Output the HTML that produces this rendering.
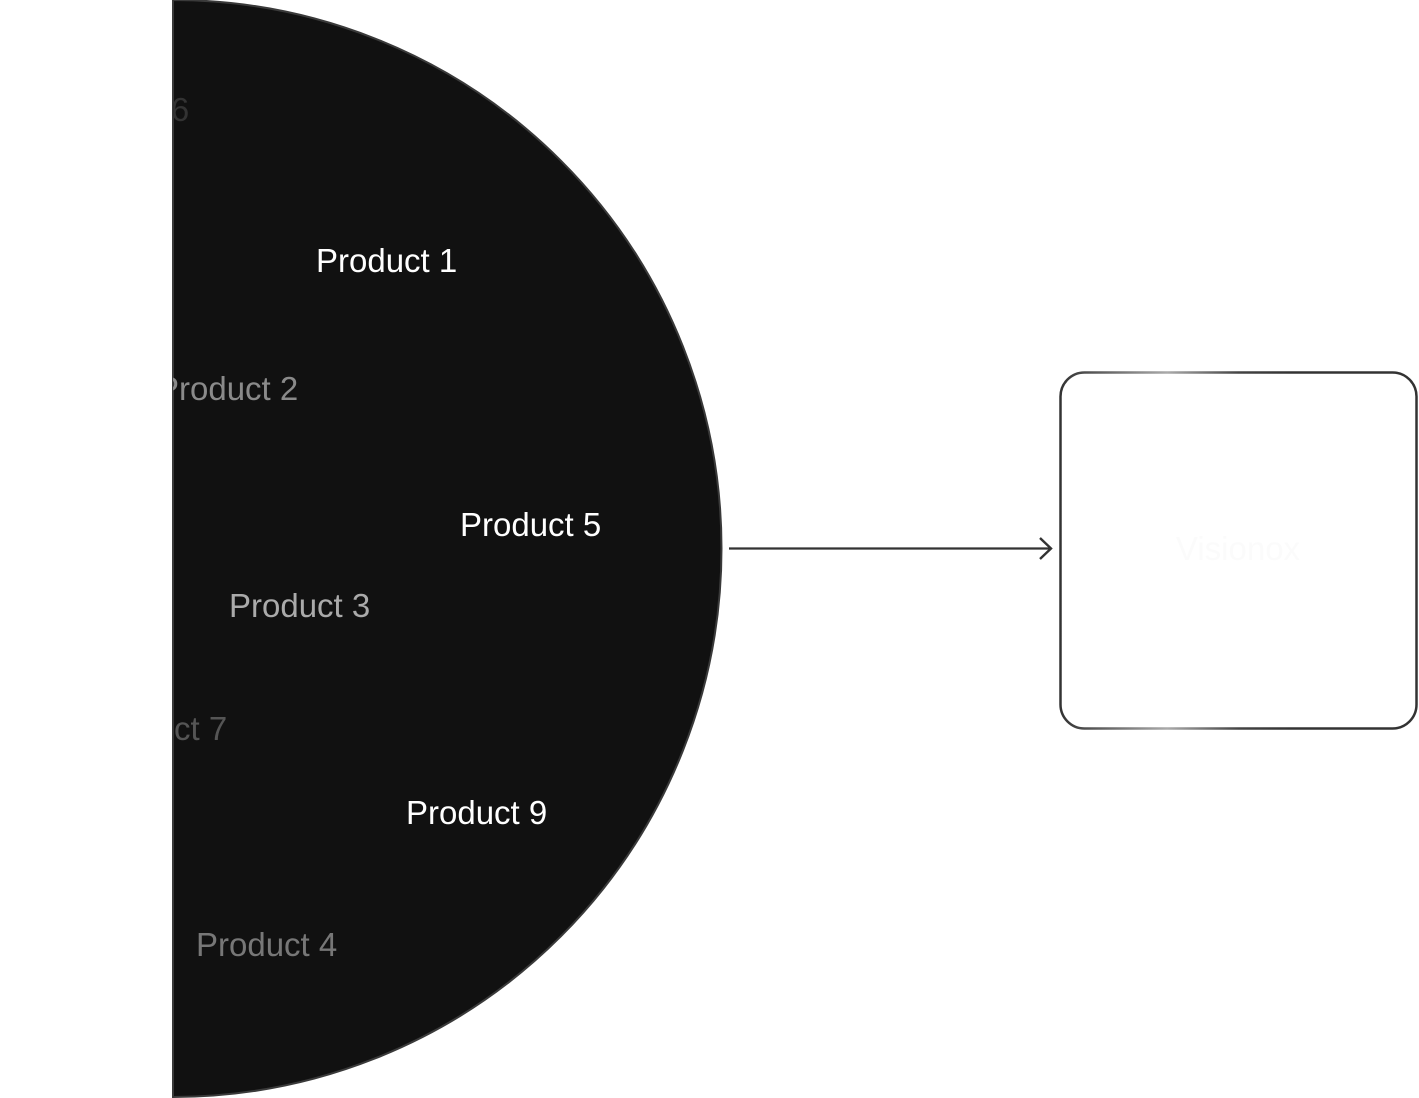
<!DOCTYPE html>
<html><head><meta charset="utf-8"><style>
html,body{margin:0;padding:0;background:#fff;}
svg{display:block;}
text{font-family:"Liberation Sans",sans-serif;font-size:33px;}
</style></head><body>
<svg width="1419" height="1098" viewBox="0 0 1419 1098" xmlns="http://www.w3.org/2000/svg">
<defs>
<clipPath id="c"><path d="M173 0 A548 548 0 0 1 173 1097 Z"/></clipPath>
<linearGradient id="g" x1="0" y1="0" x2="1" y2="0">
<stop offset="0" stop-color="#333"/><stop offset="0.3" stop-color="#aaa"/><stop offset="0.5" stop-color="#444"/><stop offset="0.65" stop-color="#333"/><stop offset="1" stop-color="#333"/>
</linearGradient>
</defs>
<path d="M173 0 A548 548 0 0 1 173 1097 Z" fill="#111" stroke="#3a3a3a" stroke-width="2"/>
<g clip-path="url(#c)">
<text x="48" y="121" fill="#333">Product 6</text>
<text x="316" y="272" fill="#fff">Product 1</text>
<text x="157" y="400" fill="#8a8a8a">Product 2</text>
<text x="460" y="536" fill="#fff">Product 5</text>
<text x="229" y="617" fill="#aaa">Product 3</text>
<text x="86" y="740" fill="#555">Product 7</text>
<text x="406" y="824" fill="#fff">Product 9</text>
<text x="196" y="956" fill="#777">Product 4</text>
</g>
<line x1="729" y1="548.5" x2="1050" y2="548.5" stroke="#333" stroke-width="2.2"/>
<polyline points="1040,538 1051,548.5 1040,559" fill="none" stroke="#333" stroke-width="2.4"/>
<rect x="1060.5" y="372.5" width="356" height="356" rx="24" fill="#fff" stroke="url(#g)" stroke-width="2.5"/>
<text x="1238" y="560" fill="#fbfbfb" text-anchor="middle" font-size="30">Visionox</text>
</svg>
</body></html>
